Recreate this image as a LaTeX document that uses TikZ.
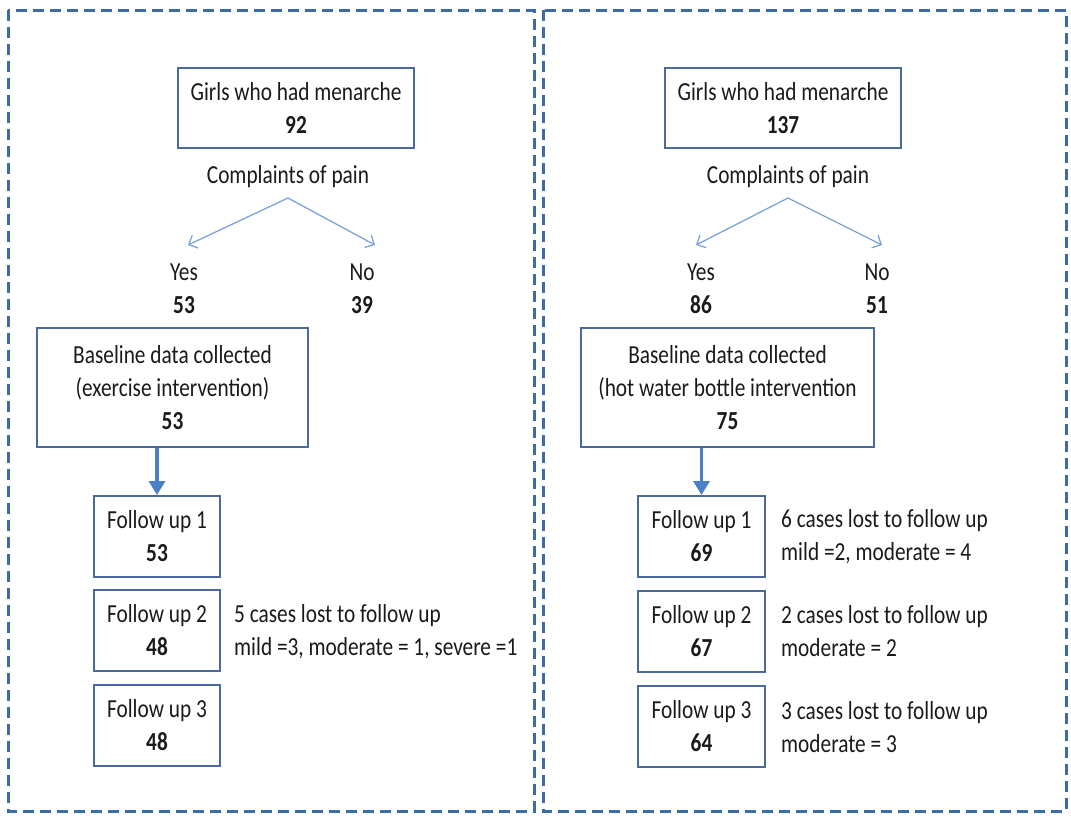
\documentclass[tikz,border=0pt]{standalone}
\usepackage{fontspec}
\setmainfont[FakeStretch=0.82]{Carlito}
\usetikzlibrary{arrows.meta}
\definecolor{framec}{HTML}{3D6BA5}
\definecolor{boxc}{HTML}{4A6A9E}
\definecolor{thinc}{HTML}{7BA3DC}
\definecolor{thickc}{HTML}{4A80C8}
\definecolor{txtc}{HTML}{1A1A1A}
\begin{document}
\begin{tikzpicture}[x=1pt,y=-1pt,
  every node/.style={font=\fontsize{26}{33}\selectfont, text=txtc},
  panel/.style={draw=framec, line width=3pt, dash pattern=on 11pt off 6pt},
  box/.style={draw=boxc, line width=2pt, align=center, inner sep=0pt},
  lbl/.style={align=center, inner sep=0pt},
  side/.style={align=left, anchor=west, inner sep=0pt},
  thinarrow/.style={draw=thinc, line width=1.3pt, -{Straight Barb[length=7pt,width=14pt]}},
  thickarrow/.style={draw=thickc, line width=3.5pt, -{Triangle[length=14pt,width=16pt]}}
]
\useasboundingbox (0,0) rectangle (1071,815);
% panels
\draw[panel] (8,10) rectangle (534,811);
\draw[panel] (543,10) rectangle (1066,811);

% ---------- left ----------
\node[box, minimum width=236pt, minimum height=80pt] (girlsL) at (296,108) {Girls who had menarche\\\textbf{92}};
\node[lbl] (cpL) at (288,177) {Complaints of pain};
\coordinate (sL) at (288,198);
\coordinate (yL) at (188,245);
\coordinate (nL) at (375,245);
\draw[thinarrow] (sL) -- (yL);
\draw[thinarrow] (sL) -- (nL);
\node[lbl] (yesL) at (184,272) {Yes};
\node[lbl] (n53) at (184,305) {\textbf{53}};
\node[lbl] (noL) at (362,272) {No};
\node[lbl] (n39) at (362,305) {\textbf{39}};
\node[box, minimum width=271pt, minimum height=119pt] (baseL) at (172.5,387.5) {Baseline data collected\\(exercise intervention)\\\textbf{53}};
\node[box, minimum width=126pt, minimum height=81pt] (fu1L) at (157,536.5) {Follow up 1\\\textbf{53}};
\node[box, minimum width=126pt, minimum height=81pt] (fu2L) at (157,630.5) {Follow up 2\\\textbf{48}};
\node[box, minimum width=126pt, minimum height=81pt] (fu3L) at (157,725.5) {Follow up 3\\\textbf{48}};
\draw[thickarrow] (baseL.south -| fu1L.north) -- (fu1L.north);
\node[side] (lost2L) at (234,632) {5 cases lost to follow up\\mild =3, moderate = 1, severe =1};

% ---------- right ----------
\node[box, minimum width=236pt, minimum height=80pt] (girlsR) at (783,108) {Girls who had menarche\\\textbf{137}};
\node[lbl] (cpR) at (788,177) {Complaints of pain};
\coordinate (sR) at (788,198);
\coordinate (yR) at (696,245);
\coordinate (nR) at (882,245);
\draw[thinarrow] (sR) -- (yR);
\draw[thinarrow] (sR) -- (nR);
\node[lbl] (yesR) at (701,272) {Yes};
\node[lbl] (n86) at (701,305) {\textbf{86}};
\node[lbl] (noR) at (877,272) {No};
\node[lbl] (n51) at (877,305) {\textbf{51}};
\node[box, minimum width=293pt, minimum height=119pt] (baseR) at (727.5,387.5) {Baseline data collected\\(hot water bottle intervention\\\textbf{75}};
\node[box, minimum width=127pt, minimum height=81pt] (fu1R) at (701.5,536.5) {Follow up 1\\\textbf{69}};
\node[box, minimum width=127pt, minimum height=81pt] (fu2R) at (701.5,631) {Follow up 2\\\textbf{67}};
\node[box, minimum width=127pt, minimum height=81pt] (fu3R) at (701.5,726) {Follow up 3\\\textbf{64}};
\draw[thickarrow] (baseR.south -| fu1R.north) -- (fu1R.north);
\node[side] (lost1R) at (781,537) {6 cases lost to follow up\\mild =2, moderate = 4};
\node[side] (lost2R) at (781,631) {2 cases lost to follow up\\moderate = 2};
\node[side] (lost3R) at (781,727) {3 cases lost to follow up\\moderate = 3};
\end{tikzpicture}
\end{document}
